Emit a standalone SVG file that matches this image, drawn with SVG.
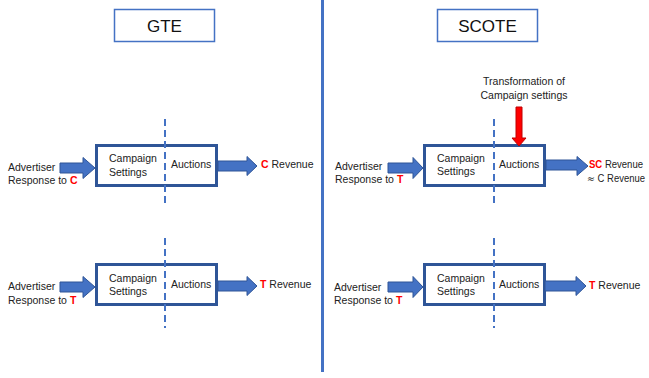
<svg xmlns="http://www.w3.org/2000/svg" width="649" height="378" viewBox="0 0 649 378">
<defs>
<style>
text{font-family:"Liberation Sans",Arial,sans-serif;font-size:10.5px;fill:#222;}
.title{font-size:17px;fill:#111;text-anchor:middle;}
.tbox{fill:#fff;stroke:#4472C4;stroke-width:1.5;}
.box{fill:#fff;stroke:#2F5597;stroke-width:3;}
.dash{stroke:#4472C4;stroke-width:2;stroke-dasharray:7 4;fill:none;}
.arr{fill:#4472C4;stroke:#2F5597;stroke-width:1;}
.red{fill:#FF0000;font-weight:bold;}
.rarr{fill:#FF0000;stroke:#C00000;stroke-width:1;}
.approx{font-family:"DejaVu Sans",sans-serif;}
.sm{font-size:10px;}
</style>
</defs>
<rect x="0" y="0" width="649" height="378" fill="#fff"/>
<line id="divider" x1="322.5" y1="0" x2="322.5" y2="372" stroke="#4472C4" stroke-width="3"/>

<g id="title-gte"><rect class="tbox" x="114.5" y="9.5" width="100" height="32"/><text class="title" x="164.5" y="32">GTE</text></g>
<g id="title-scote"><rect class="tbox" x="437.5" y="9.5" width="100" height="32"/><text class="title" x="487.5" y="32">SCOTE</text></g>

<g id="gte-row1">
<text x="8" y="171">Advertiser</text>
<text x="8" y="184">Response to <tspan class="red">C</tspan></text>
<rect class="box" x="96.5" y="145.5" width="120" height="40"/>
<text x="109" y="162">Campaign</text>
<text x="109" y="176">Settings</text>
<text x="171" y="168">Auctions</text>
<text x="261" y="168"><tspan class="red">C</tspan> Revenue</text>
</g>

<g id="gte-row2">
<text x="8" y="290">Advertiser</text>
<text x="8" y="304">Response to <tspan class="red">T</tspan></text>
<rect class="box" x="96.5" y="264.5" width="120" height="40"/>
<text x="109" y="282">Campaign</text>
<text x="109" y="295">Settings</text>
<text x="171" y="288">Auctions</text>
<text x="260" y="288"><tspan class="red">T</tspan> Revenue</text>
</g>

<g id="scote-transform">
<text x="524" y="85" text-anchor="middle">Transformation of</text>
<text x="524" y="99" text-anchor="middle">Campaign settings</text>
</g>

<g id="scote-row1">
<text x="335" y="170">Advertiser</text>
<text x="335" y="183">Response to <tspan class="red">T</tspan></text>
<rect class="box" x="424.5" y="145.5" width="120" height="40"/>
<text x="437" y="162">Campaign</text>
<text x="437" y="175">Settings</text>
<text x="499" y="168">Auctions</text>
<text class="sm" x="589" y="168" textLength="54" lengthAdjust="spacingAndGlyphs"><tspan class="red">SC</tspan> Revenue</text>
<text class="sm" x="587" y="182" textLength="58" lengthAdjust="spacingAndGlyphs"><tspan class="approx">≈</tspan> C Revenue</text>
</g>

<g id="scote-row2">
<text x="334" y="291">Advertiser</text>
<text x="334" y="304">Response to <tspan class="red">T</tspan></text>
<rect class="box" x="424.5" y="264.5" width="120" height="40"/>
<text x="437" y="282">Campaign</text>
<text x="437" y="295">Settings</text>
<text x="499" y="288">Auctions</text>
<text x="589" y="289"><tspan class="red">T</tspan> Revenue</text>
</g>

<g id="connectors">
<line class="dash" x1="165" y1="119" x2="165" y2="206"/>
<line class="dash" x1="165" y1="238" x2="165" y2="328"/>
<line class="dash" x1="494" y1="119" x2="494" y2="206"/>
<line class="dash" x1="494" y1="238" x2="494" y2="328"/>
<path class="arr" d="M60,163 H83 V157.5 L95,168 L83,178.5 V173 H60 Z"/>
<path class="arr" d="M218,161 H247 V156.5 L257,166 L247,175.5 V171 H218 Z"/>
<path class="arr" d="M60,282 H83 V276.5 L95,287 L83,297.5 V292 H60 Z"/>
<path class="arr" d="M218,281 H247 V276.5 L257,286 L247,295.5 V291 H218 Z"/>
<path class="arr" d="M388,163 H413 V157.5 L423,168 L413,178.5 V173 H388 Z"/>
<path class="arr" d="M546,160 H577 V156.5 L588,166 L577,175.5 V170 H546 Z"/>
<path class="arr" d="M388,282 H413 V276.5 L423,287 L413,297.5 V292 H388 Z"/>
<path class="arr" d="M545,281 H576 V276.5 L586,286 L576,295.5 V291 H545 Z"/>
<path class="rarr" d="M516,107 H522 V138 H526 L519,146 L512,138 H516 Z"/>
</g>
</svg>
